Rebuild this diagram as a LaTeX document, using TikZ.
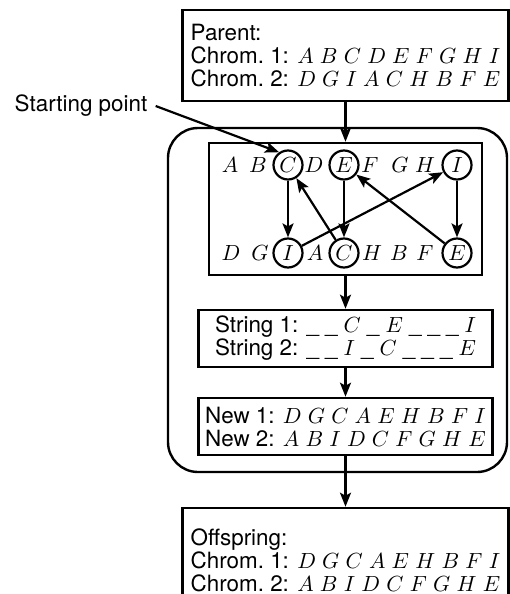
\documentclass[tikz,border=0pt]{standalone}
\usepackage{fontspec}
\setmainfont{TeX Gyre Heros}
\usetikzlibrary{arrows.meta}
\tikzset{
  txt/.style={font=\fontsize{11.2}{11.5}\selectfont},
  panel/.style={draw, line width=1.3pt, inner sep=0pt, align=left, txt},
  letter/.style={txt, inner sep=0pt, minimum size=14.5pt},
  ring/.style={letter, draw, circle, line width=1.1pt},
  conn/.style={line width=1.1pt, -{Stealth[length=7pt,width=5.5pt,inset=1.5pt]}},
}
\begin{document}
\begin{tikzpicture}[x=0.5pt,y=-0.5pt]
\useasboundingbox (0,0) rectangle (509,594);
% outer rounded frame
\node[draw, line width=1.2pt, rounded corners=15pt, minimum width=169.5pt, minimum height=172pt] (frame) at (337.5,300) {};
% parent
\node[panel, minimum width=163pt, minimum height=45.5pt] (parent) at (345.5,55.5)
  {Parent:\\Chrom.~1: $A\ B\ C\ D\ E\ F\ G\ H\ I$\\Chrom.~2: $D\ G\ I\ A\ C\ H\ B\ F\ E$};
% permutation box
\node[panel, minimum width=136.5pt, minimum height=66pt] (perm) at (345.5,209) {};
% top row
\node[letter] (tA) at (230,165) {$A$};
\node[letter] (tB) at (258,165) {$B$};
\node[ring]   (tC) at (288,165) {$C$};
\node[letter] (tD) at (314,165) {$D$};
\node[ring]   (tE) at (344,165) {$E$};
\node[letter] (tF) at (370,165) {$F$};
\node[letter] (tG) at (400,165) {$G$};
\node[letter] (tH) at (425,165) {$H$};
\node[ring]   (tI) at (457,165) {$I$};
% bottom row
\node[letter] (bD) at (231,253) {$D$};
\node[letter] (bG) at (260,253) {$G$};
\node[ring]   (bI) at (288,253) {$I$};
\node[letter] (bA) at (315,253) {$A$};
\node[ring]   (bC) at (344,253) {$C$};
\node[letter] (bH) at (372,253) {$H$};
\node[letter] (bB) at (399,253) {$B$};
\node[letter] (bF) at (425,253) {$F$};
\node[ring]   (bE) at (457,253) {$E$};
% strings
\node[panel, minimum width=147pt, minimum height=28.5pt] (strings) at (345.5,338.5)
  {String 1: $\_\;\_\;C\;\_\;E\;\_\;\_\;\_\;I$\\String 2: $\_\;\_\;I\;\_\;C\;\_\;\_\;\_\;E$};
% new
\node[panel, minimum width=147pt, minimum height=28.5pt] (newc) at (345.5,426.5)
  {New 1: $D\ G\ C\ A\ E\ H\ B\ F\ I$\\New 2: $A\ B\ I\ D\ C\ F\ G\ H\ E$};
% offspring
\node[panel, minimum width=163pt, minimum height=52pt] (offspring) at (345.5,560)
  {Offspring:\\Chrom.~1: $D\ G\ C\ A\ E\ H\ B\ F\ I$\\Chrom.~2: $A\ B\ I\ D\ C\ F\ G\ H\ E$};
% starting point
\node[txt, inner sep=4pt] (sp) at (81,106) {Starting point};
% connectors
\draw[conn] (parent) -- (perm);
\draw[conn] (perm) -- (strings);
\draw[conn] (strings) -- (newc);
\draw[conn] (newc) -- (offspring);
\draw[conn] (sp.east) -- (tC.125);
\draw[conn] (tC) -- (bI);
\draw[conn] (tE) -- (bC);
\draw[conn] (tI) -- (bE);
\draw[conn] (bI) -- (tI);
\draw[conn] (bC) -- (tC);
\draw[conn] (bE) -- (tE);
\end{tikzpicture}
\end{document}
